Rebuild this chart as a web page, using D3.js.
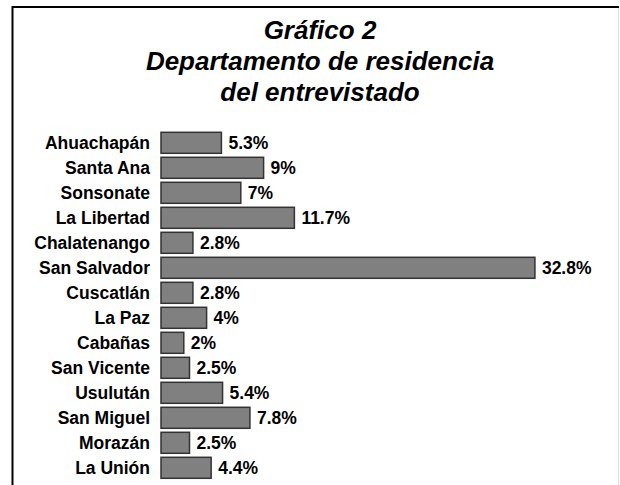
<!DOCTYPE html>
<meta charset="utf-8">
<style>
  body { margin: 0; background: #fff; }
  text { font-family: Arial, "Liberation Sans", sans-serif; font-weight: bold; fill: #000; }
</style>
<svg id="chart" width="620" height="485"></svg>
<script src="https://d3js.org/d3.v7.min.js"></script>
<script>

var departamentos = ["Ahuachapán", "Santa Ana", "Sonsonate", "La Libertad", "Chalatenango",
    "San Salvador", "Cuscatlán", "La Paz", "Cabañas", "San Vicente", "Usulután",
    "San Miguel", "Morazán", "La Unión"];
var porcentajes = [5.3, 9, 7, 11.7, 2.8, 32.8, 2.8, 4, 2, 2.5, 5.4, 7.8, 2.5, 4.4];
var etiquetas = ["5.3%", "9%", "7%", "11.7%", "2.8%", "32.8%", "2.8%", "4%", "2%", "2.5%",
    "5.4%", "7.8%", "2.5%", "4.4%"];
var titulo = ["Gráfico 2", "Departamento de residencia", "del entrevistado"];

var svg = d3.select("#chart");

// marco
svg.append("line").attr("x1", 12.5).attr("x2", 12.5).attr("y1", 6).attr("y2", 485)
    .attr("stroke", "#000").attr("stroke-width", 2);
svg.append("line").attr("x1", 12).attr("x2", 619).attr("y1", 7).attr("y2", 7)
    .attr("stroke", "#000").attr("stroke-width", 2);
svg.append("line").attr("x1", 618.5).attr("x2", 618.5).attr("y1", 8).attr("y2", 485)
    .attr("stroke", "#ddd").attr("stroke-width", 1);

svg.append("g").selectAll("text")
    .data(titulo)
  .enter().append("text")
    .attr("x", 320)
    .attr("y", function(d, i) { return 39 + i * 31; })
    .attr("text-anchor", "middle")
    .style("font-size", "26px")
    .style("font-style", "italic")
    .text(function(d) { return d; });

var x = d3.scaleLinear()
    .domain([0, 40])
    .range([161, 617]);

var y = d3.scaleBand()
    .domain(departamentos)
    .range([130.3, 480.3])
    .paddingInner(0.16)
    .paddingOuter(0.08);

var data = departamentos.map(function(d, i) {
  return {dep: d, val: porcentajes[i], label: etiquetas[i]};
});

var g = svg.append("g");

g.selectAll(".bar")
    .data(data)
  .enter().append("rect")
    .attr("class", "bar")
    .attr("x", x(0))
    .attr("y", function(d) { return y(d.dep); })
    .attr("width", function(d) { return x(d.val) - x(0); })
    .attr("height", y.bandwidth())
    .attr("fill", "#808080")
    .attr("stroke", "#333")
    .attr("stroke-width", 1.5);

g.selectAll(".cat")
    .data(data)
  .enter().append("text")
    .attr("class", "cat")
    .attr("x", 150)
    .attr("y", function(d) { return y(d.dep) + y.bandwidth() / 2; })
    .attr("dy", "0.36em")
    .attr("text-anchor", "end")
    .style("font-size", "17.5px")
    .text(function(d) { return d.dep; });

g.selectAll(".val")
    .data(data)
  .enter().append("text")
    .attr("class", "val")
    .attr("x", function(d) { return x(d.val) + 7; })
    .attr("y", function(d) { return y(d.dep) + y.bandwidth() / 2; })
    .attr("dy", "0.36em")
    .style("font-size", "17.5px")
    .text(function(d) { return d.label; });

</script>
